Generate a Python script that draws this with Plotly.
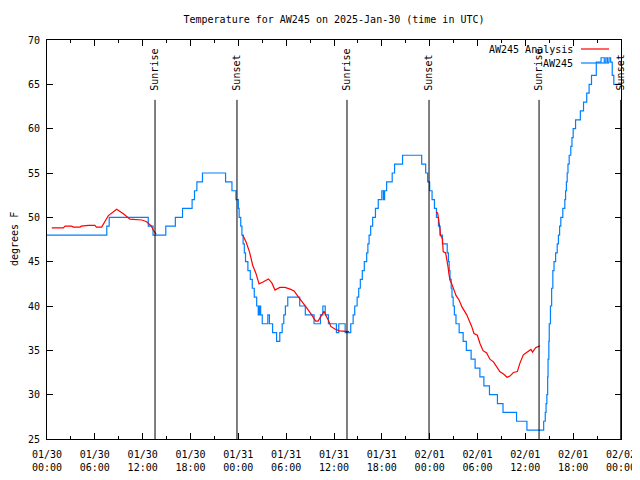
import plotly.graph_objects as go
import pandas as pd

BASE = "2025-01-30 00:00"

# AW245 observations (hours since 01/30 00:00 UTC, deg F) - stepwise readings
obs_hours = [0.0, 7.5, 7.8, 12.7, 13.3, 14.9, 16.1, 17.0, 18.2, 18.5, 18.8, 19.5,
             22.4, 23.2, 23.7, 24.0, 24.1, 24.3, 24.45, 24.6, 24.75, 24.9, 25.2, 25.5,
             25.75, 26.0, 26.3, 26.5, 26.65, 26.8, 27.0, 27.7, 27.9, 28.3, 28.8, 29.2,
             29.5, 29.7, 29.9, 30.2, 31.7, 32.4, 33.5, 34.3, 34.6, 34.9, 35.3, 36.3,
             36.6, 37.4, 38.1, 38.4, 38.6, 38.9, 39.1, 39.3, 39.55, 39.8, 40.1, 40.25,
             40.4, 40.6, 40.85, 41.2, 41.55, 42.0, 42.2, 42.35, 42.6, 43.3, 43.6, 44.6,
             47.0, 47.5, 47.75, 48.0, 48.3, 48.6, 48.85, 49.1, 49.3, 49.6, 50.2, 50.35,
             50.45, 50.55, 50.7, 50.8, 50.95, 51.1, 51.3, 51.7, 52.2, 52.6, 53.2, 53.7,
             54.3, 54.8, 55.5, 56.5, 57.2, 58.9, 60.2, 62.3, 62.5, 62.6, 62.7, 62.8,
             62.85, 62.95, 63.0, 63.15, 63.3, 63.45, 63.6, 63.8, 64.0, 64.15, 64.3, 64.45,
             64.7, 64.95, 65.05, 65.15, 65.25, 65.35, 65.5, 65.7, 65.85, 66.0, 66.3, 66.9,
             67.3, 67.7, 68.0, 68.3, 68.9, 69.5, 69.9, 70.1, 70.3, 70.5, 70.7, 70.9,
             71.1, 71.95]
obs_temp = [48, 49, 50, 49, 48, 49, 50, 51, 52, 53, 54, 55,
            54, 53, 52, 51, 50, 49, 48, 47, 46, 45, 44, 43,
            42, 41, 40, 39, 40, 39, 38, 39, 38, 37, 36, 37,
            38, 39, 40, 41, 40, 39, 38, 39, 40, 39, 38, 37,
            38, 37, 38, 39, 40, 41, 42, 43, 44, 45, 46, 47,
            48, 49, 50, 51, 52, 53, 52, 53, 54, 55, 56, 57,
            56, 55, 54, 53, 52, 51, 50, 49, 48, 47, 46, 45,
            44, 43, 42, 41, 40, 39, 38, 37, 36, 35, 34, 33,
            32, 31, 30, 29, 28, 27, 26, 27, 28, 29, 30, 32,
            34, 36, 38, 40, 42, 44, 45, 46, 47, 48, 49, 50,
            51, 52, 53, 54, 55, 56, 57, 58, 59, 60, 61, 62,
            63, 64, 65, 66, 67.5, 68, 67.5, 68, 67.5, 68, 67.5, 66,
            65, 65]

# AW245 Analysis (None = gap)
ana_hours = [0.6, 2.05, 2.26, 3.1, 3.3, 4.14, 4.3, 5.2, 6.0, 6.2, 6.85, 7.7, 8.74,
             9.58, 10.4, 11.25, 11.9, 12.5, 13.1, 13.3, 13.7, None,
             24.55, 24.96, 25.4, 25.8, 26.2, 26.6, 27.1, 27.77, 28.2, 28.6, 29.2, 29.85,
             30.5, 31.0, 31.5, 32.1, 32.6, 33.2, 33.7, 34.0, 34.5, 34.75, 35.0, 35.3,
             35.6, 36.1, 36.7, 37.9, None,
             48.8, 49.0, 49.3, 49.35, 49.6, 49.7, 50.0, 50.14, 50.3, 50.4, 50.55, 50.75,
             51.0, 51.3, 51.7, 52.05, 52.65, 52.97, 53.27, 53.56, 53.98, 54.3, 54.7,
             55.15, 55.55, 56.0, 56.5, 56.8, 57.3, 57.7, 58.07, 58.5, 59.0, 59.3, 59.75,
             60.25, 60.7, 60.9, 61.3, 61.8]
ana_temp = [48.8, 48.8, 49.0, 49.0, 48.9, 48.9, 49.0, 49.1, 49.1, 48.9, 48.9, 50.2, 50.9,
            50.4, 49.8, 49.7, 49.7, 49.5, 49.0, 48.6, 48.1, None,
            48.0, 47.25, 46.1, 44.6, 43.7, 42.5, 42.7, 43.05, 42.6, 41.8, 42.1, 42.1,
            41.9, 41.7, 41.05, 40.4, 39.75, 39.0, 38.3, 38.3, 39.1, 39.4, 38.9, 38.4,
            37.7, 37.4, 37.2, 37.1, None,
            50.6, 50.5, 48.65, 48.0, 47.6, 46.1, 46.0, 45.4, 44.45, 43.7, 42.9, 42.55,
            41.95, 41.2, 40.65, 39.9, 39.0, 38.4, 37.7, 36.9, 36.7, 35.8, 34.96,
            34.7, 34.0, 33.7, 33.0, 32.6, 32.3, 31.96, 32.1, 32.5, 32.6, 33.5, 34.5,
            34.8, 35.1, 34.8, 35.3, 35.5]

sunrise_hours = [13.55, 37.63, 61.72]
sunset_hours = [23.83, 47.92, 71.97]

y_ticks = [25, 30, 35, 40, 45, 50, 55, 60, 65, 70]

base = pd.Timestamp(BASE)


def to_time(hours):
    return [None if h is None else base + pd.Timedelta(hours=h) for h in hours]


FONT = "DejaVu Sans Mono"
BLUE = "#0080ff"
RED = "#ff0000"

# page body has an 8px margin: figure spans window pixels 8..640 x 8..480
W, H = 632, 472
OFF = 8
L, R, T, B = 47 - OFF, 640 - 621, 40 - OFF, 480 - 439
PW = 621 - 47
PH = 439 - 40

fig = go.Figure()
fig.add_trace(go.Scatter(x=to_time(obs_hours), y=obs_temp, mode="lines",
                         line=dict(color=BLUE, width=1.2, shape="hv"),
                         name="AW245", showlegend=False))
fig.add_trace(go.Scatter(x=to_time(ana_hours), y=ana_temp, mode="lines",
                         line=dict(color=RED, width=1.2), connectgaps=False,
                         name="AW245 Analysis", showlegend=False))

shapes = []
annotations = []
for hrs, label in [(sunrise_hours, "Sunrise"), (sunset_hours, "Sunset")]:
    for tt in to_time(hrs):
        shapes.append(dict(type="line", xref="x", yref="paper", x0=tt, x1=tt,
                           y0=0, y1=0.85, line=dict(color="black", width=1)))
        annotations.append(dict(x=tt, y=0.868, xref="x", yref="paper", text=label,
                                textangle=-90, showarrow=False, xanchor="center",
                                yanchor="bottom", font=dict(family=FONT, size=10, color="black")))

# gnuplot-style key (text right-aligned, sample to the right)
for ypx, label, col in [(49, "AW245 Analysis", RED), (63, "AW245", BLUE)]:
    yp = (439 - ypx) / PH
    shapes.append(dict(type="line", xref="paper", yref="paper",
                       x0=(581 - 47) / PW, x1=(609 - 47) / PW, y0=yp, y1=yp,
                       line=dict(color=col, width=1.2)))
    annotations.append(dict(x=(575 - 47) / PW, y=yp, xref="paper", yref="paper",
                            text=label, showarrow=False, xanchor="right", yanchor="middle",
                            font=dict(family=FONT, size=10, color="black")))

annotations.append(dict(x=(8 - 47) / PW, y=0.5, xref="paper", yref="paper",
                        text="degrees F", textangle=-90, showarrow=False,
                        xanchor="left", yanchor="middle", borderpad=0,
                        font=dict(family=FONT, size=10, color="black")))

fig.update_layout(
    width=W, height=H,
    margin=dict(l=L, r=R, t=T, b=B, autoexpand=False),
    paper_bgcolor="white", plot_bgcolor="white",
    title=dict(text="Temperature for AW245 on 2025-Jan-30 (time in UTC)",
               x=0.5, xref="paper", xanchor="center", y=1 - (19 - OFF) / H, yanchor="middle",
               font=dict(family=FONT, size=10, color="black"), automargin=False),
    font=dict(family=FONT, size=10, color="black"),
    shapes=shapes, annotations=annotations,
    showlegend=False,
)
fig.update_xaxes(
    type="date", range=[base, base + pd.Timedelta(hours=72)], automargin=False,
    tickformat="%m/%d<br>%H:%M", dtick=6 * 3600 * 1000, tick0=BASE,
    ticks="inside", ticklen=6, tickcolor="black", tickwidth=1, ticklabelstandoff=6,
    minor=dict(dtick=3 * 3600 * 1000, ticks="inside", ticklen=3, tickcolor="black", showgrid=False),
    showgrid=False, zeroline=False, showline=True, linecolor="black", linewidth=1,
    mirror="ticks", tickfont=dict(family=FONT, size=10, color="black"),
)
fig.update_yaxes(
    range=[25, 70], tickvals=y_ticks, ticks="inside", ticklen=6, tickcolor="black",
    automargin=False, ticklabelstandoff=4,
    showgrid=False, zeroline=False, showline=True, linecolor="black", linewidth=1,
    mirror="ticks", tickfont=dict(family=FONT, size=10, color="black"),
)

fig.write_html("out.html")
